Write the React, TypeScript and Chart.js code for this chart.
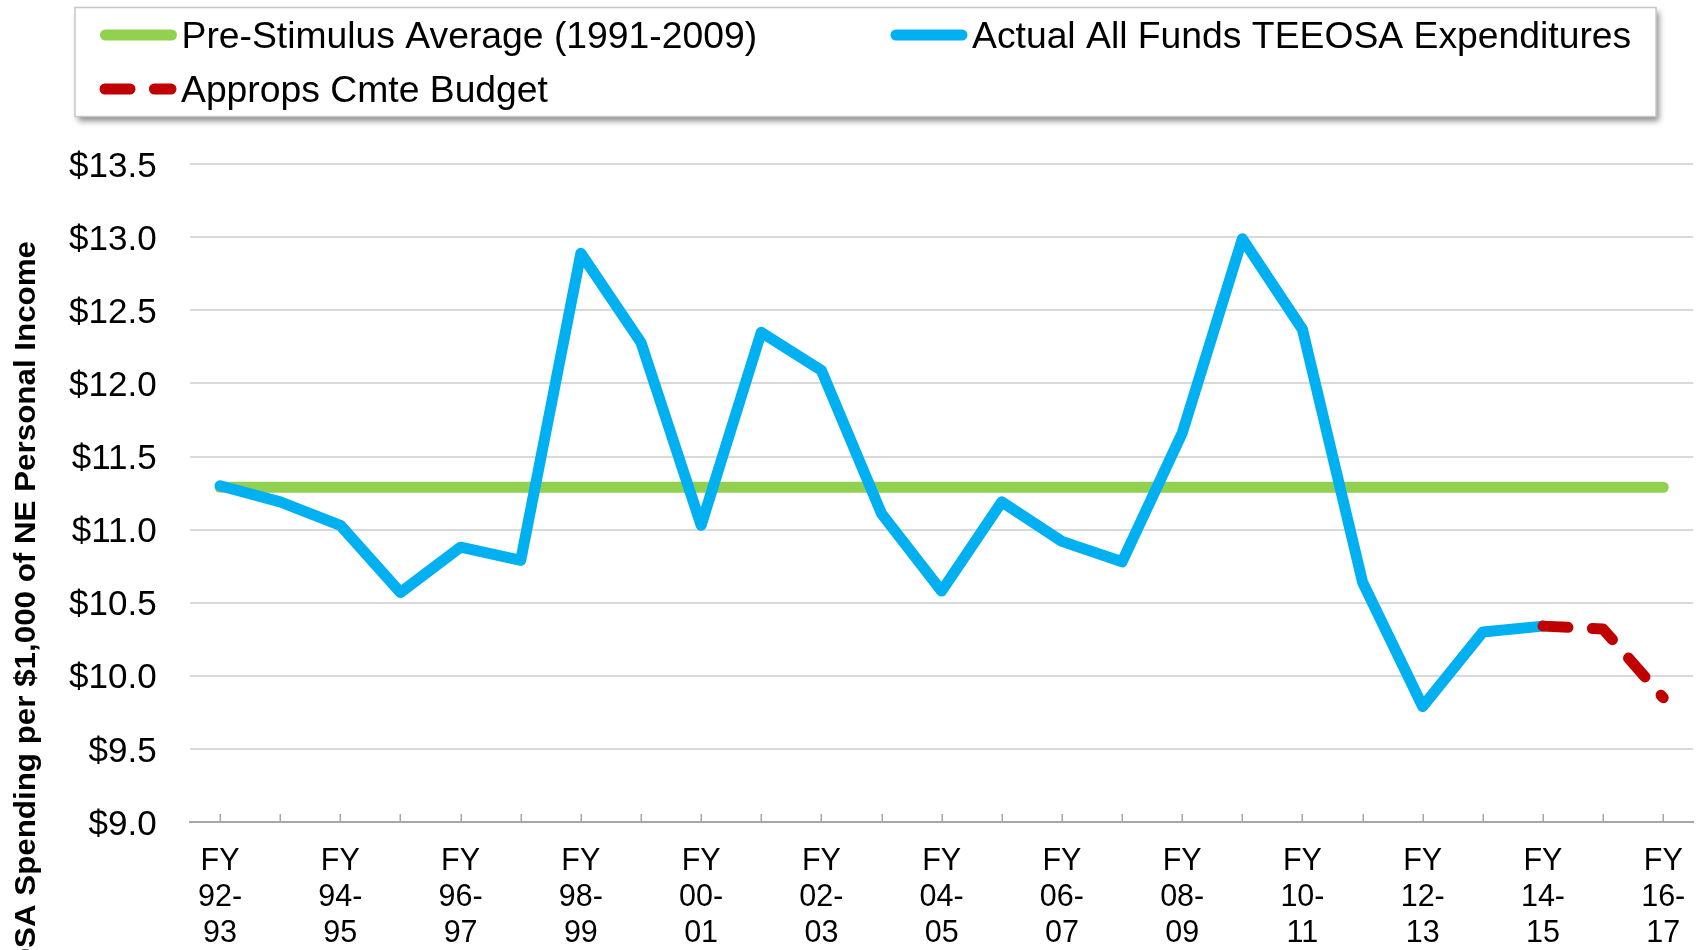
import React, { useEffect, useRef } from 'react';
import { Chart, registerables } from 'chart.js';

Chart.register(...registerables);

// ---------- data ----------
const categories: string[] = [
  'FY 92-93', 'FY 93-94', 'FY 94-95', 'FY 95-96', 'FY 96-97', 'FY 97-98', 'FY 98-99',
  'FY 99-00', 'FY 00-01', 'FY 01-02', 'FY 02-03', 'FY 03-04', 'FY 04-05', 'FY 05-06',
  'FY 06-07', 'FY 07-08', 'FY 08-09', 'FY 09-10', 'FY 10-11', 'FY 11-12', 'FY 12-13',
  'FY 13-14', 'FY 14-15', 'FY 15-16', 'FY 16-17',
];

const preStimulusAverage: number[] = [
  11.29, 11.29, 11.29, 11.29, 11.29, 11.29, 11.29, 11.29, 11.29, 11.29, 11.29, 11.29, 11.29,
  11.29, 11.29, 11.29, 11.29, 11.29, 11.29, 11.29, 11.29, 11.29, 11.29, 11.29, 11.29,
];

const actualExpenditures: (number | null)[] = [
  11.30, 11.19, 11.03, 10.57, 10.88, 10.79, 12.89, 12.28, 11.03, 12.35, 12.09, 11.11, 10.58,
  11.19, 10.92, 10.78, 11.66, 12.99, 12.37, 10.64, 9.79, 10.30, 10.34, null, null,
];

const appropsBudget: (number | null)[] = [
  null, null, null, null, null, null, null, null, null, null, null, null, null,
  null, null, null, null, null, null, null, null, null, 10.34, 10.32, 9.85,
];

const seriesLabels: string[] = [
  'Pre-Stimulus Average (1991-2009)',
  'Actual All Funds TEEOSA Expenditures',
  'Approps Cmte Budget',
];

const yTickMin = 9;
const yTickMax = 13.5;
const yTickStep = 0.5;
const yAxisTitle = 'TEEOSA Spending per $1,000 of NE Personal Income';

// ---------- styles ----------
const FONT = "'Liberation Sans', Arial, Helvetica, sans-serif";
const NARROW = "'Liberation Sans Narrow', 'Arial Narrow', 'Liberation Sans', Arial, sans-serif";
const GREEN = '#92D050';
const BLUE = '#00B0F0';
const RED = '#C00000';
const GRID = '#D9D9D9';
const AXIS = '#A6A6A6';

const legendPlugin = {
  id: 'boxedLegend',
  afterDraw(chart: any) {
    const ctx = chart.ctx;
    ctx.save();
    // box with shadow
    ctx.shadowColor = 'rgba(0,0,0,0.45)';
    ctx.shadowBlur = 6;
    ctx.shadowOffsetX = 3;
    ctx.shadowOffsetY = 4;
    ctx.fillStyle = '#ffffff';
    ctx.fillRect(75, 7.5, 1581, 109);
    ctx.shadowColor = 'rgba(0,0,0,0)';
    ctx.shadowBlur = 0;
    ctx.shadowOffsetX = 0;
    ctx.shadowOffsetY = 0;
    ctx.strokeStyle = '#C8C8C8';
    ctx.lineWidth = 1.5;
    ctx.strokeRect(75, 7.5, 1581, 109);

    const slots = [
      [105.5, 35],
      [896, 35],
      [105, 89],
    ];
    chart.data.datasets.forEach((ds: any, k: number) => {
      const [x, y] = slots[k];
      ctx.beginPath();
      ctx.setLineDash(ds.borderDash || []);
      ctx.lineCap = 'round';
      ctx.lineWidth = ds.borderWidth;
      ctx.strokeStyle = ds.borderColor;
      ctx.moveTo(x, y);
      ctx.lineTo(x + 66, y);
      ctx.stroke();
      ctx.setLineDash([]);
      ctx.fillStyle = '#000000';
      ctx.font = `37.3px ${FONT}`;
      ctx.textBaseline = 'middle';
      ctx.textAlign = 'left';
      ctx.fillText(ds.label, x + 76, y + 3);
    });
    ctx.restore();
  },
};

const yTitlePlugin = {
  id: 'yTitle',
  afterDraw(chart: any) {
    const ctx = chart.ctx;
    ctx.save();
    ctx.font = `bold 29px ${FONT}`;
    const visiblePart = yAxisTitle.slice(yAxisTitle.indexOf('SA '));
    const w = ctx.measureText(visiblePart).width;
    const sx = (948 - 241) / w;
    ctx.translate(27, 241);
    ctx.rotate(-Math.PI / 2);
    ctx.scale(sx, 1);
    ctx.textAlign = 'right';
    ctx.textBaseline = 'middle';
    ctx.fillStyle = '#000000';
    ctx.fillText(yAxisTitle, 0, 0);
    ctx.restore();
  },
};

const tickMarkPlugin = {
  id: 'innerTicks',
  beforeDatasetsDraw(chart: any) {
    const xs = chart.scales.x;
    const bottom = chart.chartArea.bottom;
    const ctx = chart.ctx;
    ctx.save();
    ctx.strokeStyle = AXIS;
    ctx.lineWidth = 1.5;
    ctx.beginPath();
    for (let i = 0; i < categories.length; i++) {
      const px = Math.round(xs.getPixelForValue(i)) + 0.25;
      ctx.moveTo(px, bottom);
      ctx.lineTo(px, bottom - 8);
    }
    ctx.stroke();
    ctx.restore();
  },
};

export default function App() {
  const canvasRef = useRef<HTMLCanvasElement | null>(null);

  useEffect(() => {
    if (!canvasRef.current) return;
    const chart = new Chart(canvasRef.current, {
      type: 'line',
      data: {
        labels: categories,
        datasets: [
          {
            label: seriesLabels[0],
            data: preStimulusAverage,
            borderColor: GREEN,
            backgroundColor: GREEN,
            borderWidth: 11,
            borderCapStyle: 'round',
            borderJoinStyle: 'round',
            pointRadius: 0,
            tension: 0,
            order: 3,
          },
          {
            label: seriesLabels[1],
            data: actualExpenditures,
            borderColor: BLUE,
            backgroundColor: BLUE,
            borderWidth: 11,
            borderCapStyle: 'round',
            borderJoinStyle: 'round',
            pointRadius: 0,
            tension: 0,
            order: 2,
          },
          {
            label: seriesLabels[2],
            data: appropsBudget,
            borderColor: RED,
            backgroundColor: RED,
            borderWidth: 11,
            borderDash: [25, 24.4],
            borderCapStyle: 'round',
            borderJoinStyle: 'round',
            pointRadius: 0,
            tension: 0,
            order: 1,
          },
        ],
      },
      options: {
        animation: false,
        responsive: true,
        maintainAspectRatio: false,
        devicePixelRatio: 1,
        layout: { padding: { top: 164.2, right: 2.7, left: 0, bottom: 0 } },
        plugins: {
          legend: { display: false },
          tooltip: { enabled: false },
          title: { display: false },
        },
        scales: {
          x: {
            type: 'category',
            offset: true,
            grid: { display: false, drawTicks: false },
            border: { display: true, color: AXIS, width: 2 },
            afterFit: (s: any) => {
              s.height = 128;
              s.paddingLeft = 0;
              s.paddingRight = 0;
            },
            ticks: {
              autoSkip: false,
              maxRotation: 0,
              minRotation: 0,
              padding: 21.4,
              color: '#000000',
              font: { family: NARROW, size: 30.5, lineHeight: '36px' },
              callback: (_v: any, i: number) => {
                if (i % 2 !== 0) return '';
                const [fy, yrs] = categories[i].split(' ');
                const [a, b] = yrs.split('-');
                return [fy, a + '-', b];
              },
            },
          },
          y: {
            min: yTickMin,
            max: yTickMax,
            grid: { color: GRID, lineWidth: 2, drawTicks: false },
            border: { display: false },
            afterFit: (s: any) => {
              s.width = 190;
            },
            ticks: {
              stepSize: yTickStep,
              padding: 33.3,
              labelOffset: 3,
              color: '#000000',
              font: { family: FONT, size: 35 },
              callback: (v: any) => '$' + Number(v).toFixed(1),
            },
          },
        },
      },
      plugins: [tickMarkPlugin, legendPlugin, yTitlePlugin],
    });
    return () => chart.destroy();
  }, []);

  return (
    <div
      style={{
        position: 'fixed',
        left: 0,
        top: 0,
        width: '1696px',
        height: '950px',
        background: '#ffffff',
      }}
    >
      <canvas ref={canvasRef} />
    </div>
  );
}
